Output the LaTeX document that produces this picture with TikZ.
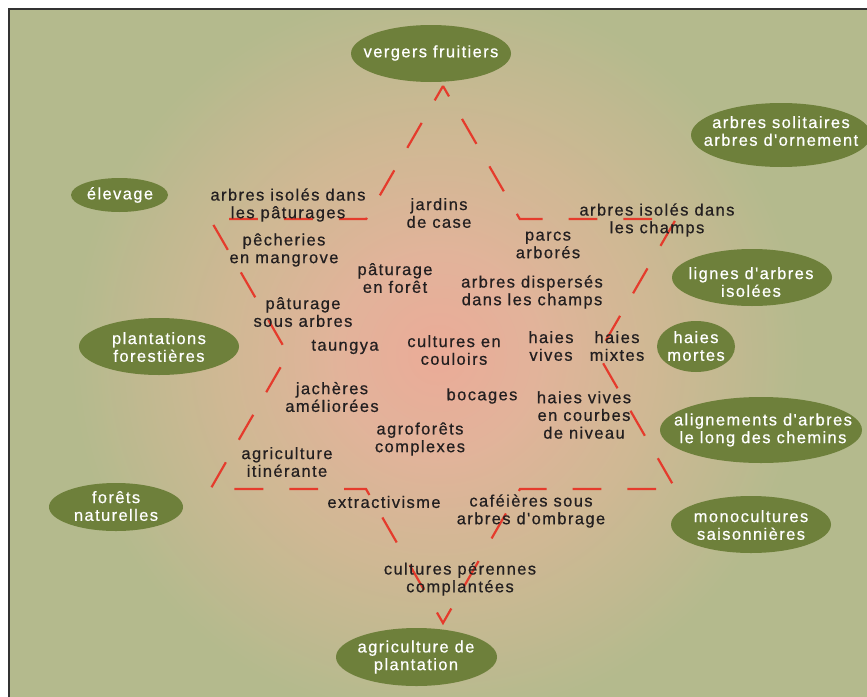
\documentclass[tikz,border=0pt]{standalone}
\usepackage{fontspec}
\usepackage{xcolor}
\usepackage{tikz}
\usetikzlibrary{
  positioning,
  shapes.geometric
}
\newfontfamily\lblfont{Liberation Sans}[LetterSpace=8.5, FakeBold=0.6]
\definecolor{bgpink}{HTML}{EBAB98}
\definecolor{bgrose}{HTML}{E2B39A}
\definecolor{bgtan}{HTML}{D0B894}
\definecolor{bggreen}{HTML}{B4BA8D}
\definecolor{blobgreen}{HTML}{6E803B}
\definecolor{dashred}{HTML}{E53B2C}
\definecolor{ink}{HTML}{231F20}

\begin{document}
\begin{tikzpicture}[
  x=1pt, y=-1pt,
  txt/.style={align=center, font=\lblfont\fontsize{16.5}{17.7}\selectfont, text=ink, inner sep=0pt},
  wtxt/.style={txt, text=white},
  blob/.style={ellipse, fill=blobgreen, inner sep=0pt},
  star/.style={draw=dashred, line width=2.2pt, dash pattern=on 28.8pt off 26pt, dash phase=16.8pt},
]
  \fill[white] (0,0) rectangle (867,696);
  \useasboundingbox (0,0) rectangle (867,696);
  % Background glow
  \begin{scope}
    \clip (9,9) rectangle (875,705);
    \fill[bggreen] (9,9) rectangle (875,705);
    \foreach \r in {368,365,...,212}{
      \pgfmathtruncatemacro\p{(\r-212)/1.56}
      \fill[bggreen!\p!bgtan] (438,355) circle (\r);
    }
    \foreach \r in {210,207,...,99}{
      \pgfmathtruncatemacro\p{(\r-99)/1.11}
      \fill[bgtan!\p!bgrose] (438,355) circle (\r);
    }
    \foreach \r in {96,93,...,3}{
      \pgfmathtruncatemacro\p{\r/0.99}
      \fill[bgrose!\p!bgpink] (438,355) circle (\r);
    }
  \end{scope}
  \draw[line width=1.6pt, draw=black!80] (875,9) -- (9,9) -- (9,705);

  % Star corners
  \coordinate (A) at (443,86);
  \coordinate (I1) at (519.8,219);
  \coordinate (TR) at (676,219);
  \coordinate (I2) at (597.9,354.2);
  \coordinate (BR) at (675.5,489);
  \coordinate (I3) at (520,489);
  \coordinate (D) at (443,623);
  \coordinate (I4) at (366,489);
  \coordinate (BL) at (210.5,489);
  \coordinate (I5) at (288.1,354.2);
  \coordinate (TL) at (210,219);
  \coordinate (I6) at (366.2,219);
  \draw[star] (A) -- (I1) -- (TR) -- (I2) -- (BR) -- (I3) -- (D) -- (I4)
    -- (BL) -- (I5) -- (TL) -- (I6) -- cycle;

  % Systems inside the star
  \node[txt] (isopat) at (288,205) {arbres isolés dans\\les pâturages};
  \node[txt] (jardins) at (439,213) {jardins\\de case};
  \node[txt] (parcs) at (548,245) {parcs\\arborés};
  \node[txt] (isocha) at (657,220) {arbres isolés dans\\les champs};
  \node[txt] (peche) at (284,250) {pêcheries\\en mangrove};
  \node[txt] (patfor) at (395,278) {pâturage\\en forêt};
  \node[txt] (disp) at (532,292) {arbres dispersés\\dans les champs};
  \node[txt] (patsous) at (303,312) {pâturage\\sous arbres};
  \node[txt] (taungya) at (345,347) {taungya};
  \node[txt] (couloirs) at (454,350) {cultures en\\couloirs};
  \node[txt] (vives) at (551,346) {haies\\vives};
  \node[txt] (mixtes) at (617,346) {haies\\mixtes};
  \node[txt] (jacheres) at (332,397) {jachères\\améliorées};
  \node[txt] (bocages) at (482,396) {bocages};
  \node[txt] (courbes) at (584,415) {haies vives\\en courbes\\de niveau};
  \node[txt] (agrofor) at (420,439) {agroforêts\\complexes};
  \node[txt] (itin) at (287,462) {agriculture\\itinérante};
  \node[txt] (extract) at (384,502) {extractivisme};
  \node[txt] (cafe) at (531,511) {caféières sous\\arbres d'ombrage};
  \node[txt] (perennes) at (460,579) {cultures pérennes\\complantées};

  % Land uses around
  \node[blob, minimum width=160pt, minimum height=57pt] (vergers) at (431,53.5) {};
  \node[wtxt] (vergers-t) at (431,53) {vergers fruitiers};
  \node[blob, minimum width=180pt, minimum height=64pt] (solit) at (781,135) {};
  \node[wtxt] (solit-t) at (781,131) {arbres solitaires\\arbres d'ornement};
  \node[blob, minimum width=97pt, minimum height=34pt] (elevage) at (119.5,195) {};
  \node[wtxt] (elevage-t) at (120,195) {élevage};
  \node[blob, minimum width=160pt, minimum height=57pt] (lignes) at (752,277.5) {};
  \node[wtxt] (lignes-t) at (751,282) {lignes d'arbres\\isolées};
  \node[blob, minimum width=78pt, minimum height=51pt] (mortes) at (696,346.5) {};
  \node[wtxt] (mortes-t) at (696,346) {haies\\mortes};
  \node[blob, minimum width=202pt, minimum height=66pt] (align) at (761,430) {};
  \node[wtxt] (align-t) at (763,430) {alignements d'arbres\\le long des chemins};
  \node[blob, minimum width=160pt, minimum height=57pt] (mono) at (751,524.5) {};
  \node[wtxt] (mono-t) at (751,525) {monocultures\\saisonnières};
  \node[blob, minimum width=160pt, minimum height=57pt] (plant) at (159,346.5) {};
  \node[wtxt] (plant-t) at (159,347) {plantations\\forestières};
  \node[blob, minimum width=134pt, minimum height=48pt] (forets) at (116,507) {};
  \node[wtxt] (forets-t) at (116,506) {forêts\\naturelles};
  \node[blob, minimum width=161pt, minimum height=58pt] (agri) at (416.5,657) {};
  \node[wtxt] (agri-t) at (416,657) {agriculture de\\plantation};
\end{tikzpicture}
\end{document}
